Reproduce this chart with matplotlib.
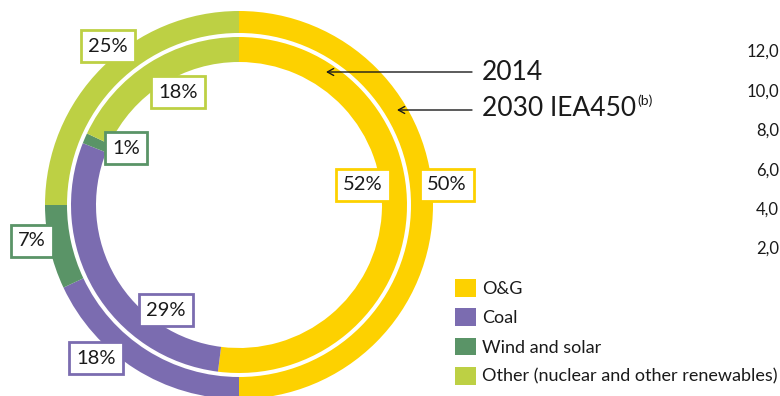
import matplotlib
matplotlib.use("Agg")
import matplotlib.pyplot as plt

plt.rcParams['font.family'] = ['Lato', 'DejaVu Sans']

# data
categories = ["O&G", "Coal", "Wind and solar", "Other (nuclear and other renewables)"]
share_2030 = [50, 18, 7, 25]   # outer ring: 2030 IEA450
share_2014 = [52, 29, 1, 18]   # inner ring: 2014
colors = ["#FDD100", "#7B6CB0", "#5A9467", "#BDD044"]
axis_ticks = ["12,0", "10,0", "8,0", "6,0", "4,0", "2,0"]

W, H = 780, 396
fig = plt.figure(figsize=(W / 100, H / 100), dpi=100)
ax = fig.add_axes([0, 0, 1, 1])

cx, cy = 239, H - 205   # ring centre in pixel space (y up)

outer, _ = ax.pie(share_2030, radius=194, center=(cx, cy), startangle=90,
                  counterclock=False, colors=colors,
                  wedgeprops=dict(width=22, edgecolor="none"))
inner, _ = ax.pie(share_2014, radius=168, center=(cx, cy), startangle=90,
                  counterclock=False, colors=colors,
                  wedgeprops=dict(width=25, edgecolor="none"))

ax.set_xlim(0, W)
ax.set_ylim(0, H)
ax.set_aspect("equal")
ax.axis("off")

txt = "#1a1a1a"

# percentage boxes (x, y in px from top-left)
label_pos_2030 = [(447, 185), (96, 358), (32, 241), (108, 46)]
label_pos_2014 = [(363, 185), (166, 310), (126, 148), (178, 92)]
for vals, pos in [(share_2030, label_pos_2030), (share_2014, label_pos_2014)]:
    for v, (x, y), c in zip(vals, pos, colors):
        ax.text(x, H - y, f"{v}%", ha="center", va="center", fontsize=14.5,
                color=txt,
                bbox=dict(boxstyle="square,pad=0.35", fc="white", ec=c, lw=2))

# series annotations with arrows
arrow = dict(arrowstyle="->,head_length=0.45,head_width=0.25", lw=1, color=txt,
             shrinkA=0, shrinkB=0)
ax.annotate("", xy=(326, H - 72), xytext=(472, H - 72), arrowprops=arrow)
ax.annotate("", xy=(397, H - 110), xytext=(472, H - 110), arrowprops=arrow)
ax.text(482, H - 72, "2014", ha="left", va="center", fontsize=19, color=txt)
t = ax.text(482, H - 108, "2030 IEA450", ha="left", va="center", fontsize=19,
            color=txt)
fig.canvas.draw()
bb = t.get_window_extent()
ax.text(bb.x1 + 1, H - 101, "(b)", ha="left", va="center", fontsize=10,
        color=txt)

# leftover axis tick labels of the neighbouring chart (at the right edge)
for i, lab in enumerate(axis_ticks):
    ax.text(779, H - (52 + 39.4 * i), lab, ha="right", va="center",
            fontsize=12, color=txt)

# legend
ax.legend(inner, categories, loc="upper left",
          bbox_to_anchor=(455 / W, 1 - 279 / H), frameon=False,
          fontsize=13, handlelength=1.15, handleheight=1.15,
          handletextpad=0.35, labelspacing=0.62, borderpad=0,
          borderaxespad=0, labelcolor=txt)

fig.savefig("out.png", dpi=100)
